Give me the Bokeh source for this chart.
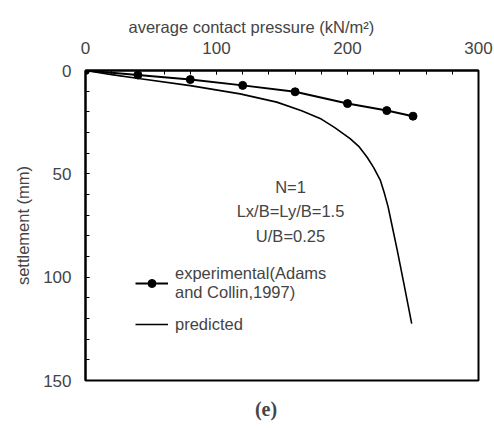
from bokeh.plotting import figure
from bokeh.layouts import column
from bokeh.models import (Range1d, FixedTicker, Label, Legend, LegendItem, Title)
from bokeh.embed import file_html
from bokeh.resources import INLINE

# Load-settlement data
exp_pressure = [0, 40, 80, 120, 160, 200, 230, 250]
exp_settlement = [0, 2.2, 4.4, 7.2, 10.3, 16.0, 19.4, 22.1]

pred_pressure = [0, 20, 42, 80, 118, 146, 165, 180, 190, 202, 209, 215, 220, 225, 228,
                 231, 234, 238, 243, 249]
pred_settlement = [0, 2.0, 4.0, 7.3, 11.3, 15.3, 19.5, 23.5, 27.5, 33.0, 37.0, 42.0, 47.0,
                   53.0, 59.0, 66.0, 75.0, 87.0, 103.0, 122.5]

x_ticks = [0, 100, 200, 300]
y_ticks = [0, 50, 100, 150]

case_notes = ["N=1", "Lx/B=Ly/B=1.5", "U/B=0.25"]

FONT = "Liberation Sans"

p = figure(width=494, height=395, output_backend="svg", toolbar_location=None,
           x_axis_location="above", x_range=Range1d(0, 300), y_range=Range1d(150, 0),
           min_border_left=85, min_border_right=16, min_border_top=70, min_border_bottom=15)

p.grid.visible = False
p.outline_line_color = "black"
p.outline_line_width = 2
p.background_fill_color = "white"
p.border_fill_color = "white"

# top x axis
xa = p.xaxis[0]
xa.ticker = FixedTicker(ticks=x_ticks, minor_ticks=list(range(0, 301, 20)))
xa.major_label_text_font = FONT
xa.major_label_text_font_size = "17px"
xa.major_label_standoff = 17
xa.major_tick_in = 4
xa.major_tick_out = 0
xa.minor_tick_in = 4
xa.minor_tick_out = 0
xa.axis_line_width = 2

# x axis caption, set slightly left of the frame centre
p.add_layout(Title(text="average contact pressure (kN/m²)", align="left", offset=43,
                   text_font=FONT, text_font_size="16.5px", text_font_style="normal",
                   vertical_align="middle", standoff=4), "above")

# left y axis
ya = p.yaxis[0]
ya.ticker = FixedTicker(ticks=y_ticks, minor_ticks=list(range(0, 151, 10)))
ya.axis_label = "settlement (mm)"
ya.axis_label_text_font = FONT
ya.axis_label_text_font_size = "16.5px"
ya.axis_label_text_font_style = "normal"
ya.axis_label_standoff = 8
ya.major_label_text_font = FONT
ya.major_label_text_font_size = "17px"
ya.major_label_standoff = 14
ya.major_tick_in = 4
ya.major_tick_out = 0
ya.minor_tick_in = 4
ya.minor_tick_out = 0
ya.axis_line_width = 2

exp_line = p.line(exp_pressure, exp_settlement, line_color="black", line_width=2)
exp_pts = p.scatter(exp_pressure, exp_settlement, size=8, marker="circle",
                    fill_color="black", line_color="black")
pred_line = p.line(pred_pressure, pred_settlement, line_color="black", line_width=1.6)

legend = Legend(items=[
    LegendItem(label="experimental(Adams\nand Collin,1997)", renderers=[exp_line, exp_pts]),
    LegendItem(label="predicted", renderers=[pred_line]),
], location=(50, 46), border_line_alpha=0, background_fill_alpha=0,
    label_text_font=FONT, label_text_font_size="16.5px", glyph_width=33,
    label_standoff=7, spacing=12, padding=0, margin=0, label_height=20)
p.add_layout(legend, "center")

# case parameters (screen offsets from the frame's lower-left corner)
for i, txt in enumerate(case_notes):
    p.add_layout(Label(x=205, y=194 - i * 24.5, x_units="screen", y_units="screen",
                       text=txt, text_font=FONT, text_font_size="16.5px",
                       text_align="center", text_baseline="middle"))

# strip under the chart carrying the panel tag (its frame lines up with the chart's)
tag = figure(width=494, height=33, output_backend="svg", toolbar_location=None,
             x_range=Range1d(0, 494), y_range=Range1d(0, 33), min_border=0)
tag.axis.visible = False
tag.grid.visible = False
tag.outline_line_color = None
tag.add_layout(Label(x=180.5, y=20, x_units="screen", y_units="screen", text="(e)",
                     text_font="Liberation Serif", text_font_style="bold",
                     text_font_size="20px", text_align="center", text_baseline="middle"))

layout = column(p, tag, spacing=0)

open("out.html", "w").write(file_html(layout, INLINE))
